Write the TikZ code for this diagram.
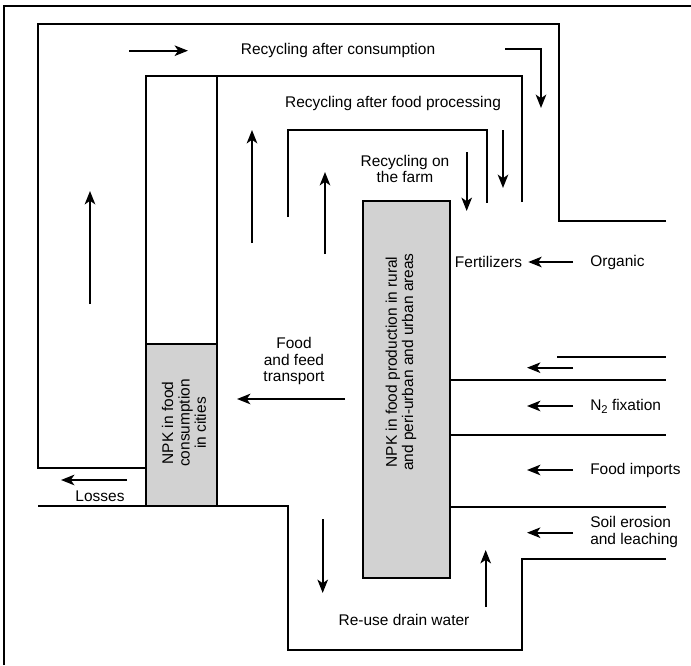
\documentclass[tikz,border=0pt]{standalone}
\usepackage{fontspec}
\setmainfont{Liberation Sans}
\usetikzlibrary{arrows.meta}

\begin{document}
\begin{tikzpicture}[x=0.025cm,y=-0.025cm,>={Stealth[length=9.5pt,width=7.5pt,inset=2.5pt]},
    wall/.style={line width=1.4pt},
    flow/.style={->,line width=1.3pt},
    box/.style={draw,line width=1.4pt,fill=gray!35},
    lbl/.style={inner sep=0pt,font=\fontsize{11}{11.6}\selectfont,align=center}]
    \useasboundingbox (0,0) rectangle (691,665);

    % boxes and labels
    \draw[wall] (145.7,76) rectangle (217,344);
    \node[box,minimum width=71.3*0.025cm,minimum height=161.7*0.025cm,inner sep=0pt] (city) at (181.35,424.85) {};
    \node[box,minimum width=87.6*0.025cm,minimum height=377.3*0.025cm,inner sep=0pt] (farm) at (406.5,389.65) {};
    \node[lbl,rotate=90] (citytxt) at (184,423) {NPK in food\\consumption\\in cities};
    \node[lbl,rotate=90] (farmtxt) at (401,362) {NPK in food production in rural\\and peri-urban and urban areas};

    \node[lbl] (cons)   at (338,50)  {Recycling after consumption};
    \node[lbl] (proc)   at (393,103) {Recycling after food processing};
    \node[lbl] (onfarm) at (405,169) {Recycling on\\the farm};
    \node[lbl] (fert)   at (488.5,262) {Fertilizers};
    \node[lbl] (org)    at (617.5,262) {Organic};
    \node[lbl] (trans)  at (294,361) {Food\\and feed\\transport};
    \node[lbl] (loss)   at (100,496) {Losses};
    \node[lbl] (drain)  at (404,620) {Re-use drain water};
    \node[lbl,anchor=west] (nfix)  at (590,406) {N\raisebox{-0.35ex}{\fontsize{8}{8}\selectfont 2} fixation};
    \node[lbl,anchor=west] (imp)   at (590,470) {Food imports};
    \node[lbl,anchor=west,align=left] (soil) at (590,532) {Soil erosion\\and leaching};

    % channel walls
    \draw[wall] (4,665) -- (4,6) -- (691,6);
    \draw[wall] (666,221) -- (559,221) -- (559,24) -- (37.7,24) -- (37.7,468) -- (145.7,468);
    \draw[wall] (521.7,202) -- (521.7,76) -- (217,76);
    \draw[wall] (288,217) -- (288,130) -- (487,130) -- (487,202.7);
    \draw[wall] (557,356.7) -- (666,356.7);
    \foreach \y in {379.7,435.3,506.7}
        \draw[wall] (farm.east |- 0,\y) -- (666,\y);
    \draw[wall] (666,559.3) -- (522,559.3) -- (522,650) -- (288,650) -- (288,505.7) -- (38.3,505.7);

    % arrow ends
    \foreach \nm/\x/\y in {cs/129/50.7, ce/188/50.7, ks/505/49.3, kc/541/49.3, ke/541/108,
        ps/503/130, pe/503/188, fs/466.7/152, fe/466.7/211,
        u1s/252/243, u1e/252/130, u2s/325/254, u2e/325/172, u3s/90/304, u3e/90/191,
        ts/345/399, te/237/399, ls/127/480, le/61/480,
        ds/322.7/519, de/322.7/593, rs/485.7/607, re/485.7/550,
        i1s/573/367.7, i1e/527/367.7, i2s/573/406, i2e/527/406,
        i3s/573/470, i3e/527/470, i4s/573/532.7, i4e/527/532.7}
        \coordinate (\nm) at (\x,\y);

    \path[flow]
        (cs) edge (ce)
        (ps) edge (pe)
        (fs) edge (fe)
        (u1s) edge (u1e)
        (u2s) edge (u2e)
        (u3s) edge (u3e)
        (ts) edge (te)
        (ls) edge (le)
        (ds) edge (de)
        (rs) edge (re)
        (i1s) edge (i1e)
        (i2s) edge (i2e)
        (i3s) edge (i3e)
        (i4s) edge (i4e)
        (org.west) edge[shorten <=17*0.025cm,shorten >=6*0.025cm] (fert.east);
    \draw[flow] (ks) -- (kc) -- (ke);
\end{tikzpicture}
\end{document}
